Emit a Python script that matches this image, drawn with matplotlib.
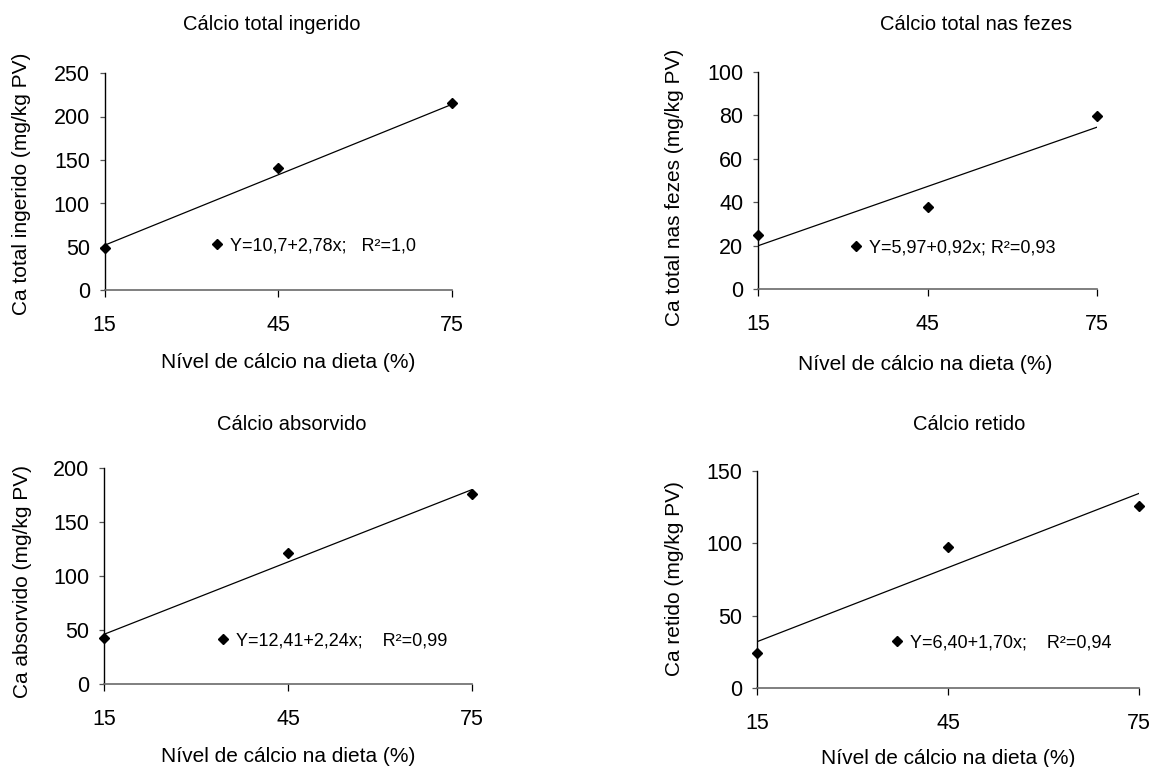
#!/usr/bin/env python3
"""Calcium balance panels: four scatter + linear fit plots."""

import matplotlib

matplotlib.use("Agg")
import matplotlib.pyplot as plt

plt.rcParams["font.family"] = ["Liberation Sans", "DejaVu Sans"]

# --- data ---
niveis = [15, 45, 75]
fit_x = [15, 75]

titulos = [
    "Cálcio total ingerido",
    "Cálcio total nas fezes",
    "Cálcio absorvido",
    "Cálcio retido",
]
ylabels = [
    "Ca total ingerido (mg/kg PV)",
    "Ca total nas fezes (mg/kg PV)",
    "Ca absorvido (mg/kg PV)",
    "Ca retido (mg/kg PV)",
]
xlabel = "Nível de cálcio na dieta (%)"

ingerido = [49, 140.5, 215]
fezes = [25, 38, 79.5]
absorvido = [43, 121, 176]
retido = [24, 97.5, 126]

ingerido_fit = [52, 214]
fezes_fit = [20, 74.5]
absorvido_fit = [46, 180]
retido_fit = [32, 134.5]

equacoes = [
    "Y=10,7+2,78x;   R²=1,0",
    "Y=5,97+0,92x; R²=0,93",
    "Y=12,41+2,24x;    R²=0,99",
    "Y=6,40+1,70x;    R²=0,94",
]

y_max = [250, 100, 200, 150]
y_step = [50, 20, 50, 50]

series = [ingerido, fezes, absorvido, retido]
fits = [ingerido_fit, fezes_fit, absorvido_fit, retido_fit]

# --- layout in pixels of the 1152x767 canvas ---
W, H = 1152, 767
# (left, top, right, bottom), title, xlabel, ylabel, legend key centre
LAYOUT = [
    ((104.5, 73, 452, 290.5), (272, 25), (288, 362), (22, 184), (217, 249)),
    ((758, 71.7, 1097, 289.3), (976, 25), (925, 365), (674, 187), (856, 251)),
    ((104, 468, 472, 684), (292, 424), (288, 757), (23, 581), (223, 644)),
    ((757, 471, 1139, 688), (969, 424), (948, 759), (674, 579), (897, 646)),
]


def fx(px):
    return px / W


def fy(py):
    return 1 - py / H


fig = plt.figure(figsize=(W / 100, H / 100), dpi=100)

EQ_SIZE = 13
for i in range(4):
    (l, t, r, b), tpos, xpos, ypos, kpos = LAYOUT[i]
    ax = fig.add_axes([fx(l), fy(b), (r - l) / W, (b - t) / H])

    ax.plot(fit_x, fits[i], color="black", lw=0.9)
    (pts,) = ax.plot(
        niveis, series[i], "D", color="black", markersize=5.6, clip_on=False
    )

    ax.set_xlim(15, 75)
    ax.set_ylim(0, y_max[i])
    ax.set_xticks(niveis)
    ax.set_yticks(range(0, y_max[i] + 1, y_step[i]))

    for side in ("top", "right"):
        ax.spines[side].set_visible(False)
    ax.spines["left"].set_linewidth(1.0)
    ax.spines["bottom"].set_color("#6a6a6a")
    ax.spines["bottom"].set_linewidth(1.2)
    ax.tick_params(axis="x", length=5, width=0.9, pad=13, labelsize=15.5)
    ax.tick_params(axis="y", length=3.6, width=0.9, pad=7, labelsize=15.5,
                   color="#555555")

    fig.text(fx(tpos[0]), fy(tpos[1]), titulos[i], ha="center", va="center",
             fontsize=14.5)
    fig.text(fx(xpos[0]), fy(xpos[1]), xlabel, ha="center", va="center",
             fontsize=15)
    fig.text(fx(ypos[0]), fy(ypos[1]), ylabels[i], ha="center", va="center",
             rotation=90, fontsize=15)

    # legend key + equation, placed like the original text box
    key_px = EQ_SIZE * 100 / 72 * 0.4
    ax.legend(
        [pts], [equacoes[i]],
        loc="center left",
        bbox_to_anchor=(fx(kpos[0] - key_px), fy(kpos[1] - 3)),
        bbox_transform=fig.transFigure,
        frameon=False, borderpad=0, borderaxespad=0,
        handlelength=0.8, handletextpad=0.3, fontsize=EQ_SIZE,
    )

fig.savefig("out.png", dpi=100)
